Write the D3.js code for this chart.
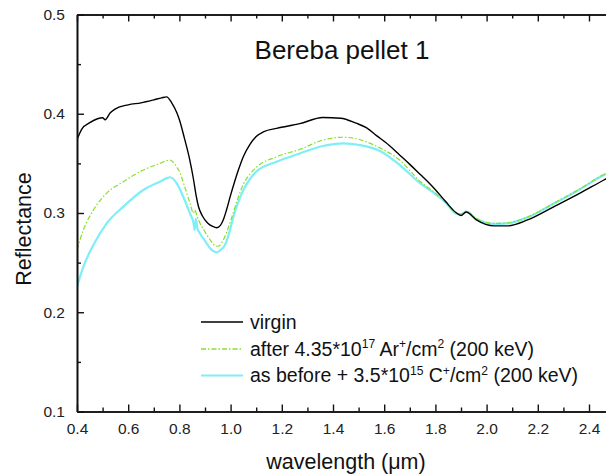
<!DOCTYPE html>
<html>
<head>
<meta charset="utf-8">
<script src="https://cdn.jsdelivr.net/npm/d3@7"></script>
<style>
  html, body { margin: 0; padding: 0; background: #fff; }
  svg { display: block; font-family: "Liberation Sans", Arial, sans-serif; }
</style>
</head>
<body>
<svg id="chart" width="606" height="474"></svg>
<script>
// Reflectance spectra of the Bereba pellet (virgin and after ion irradiation)

const wlVirgin = [0.40, 0.42, 0.45, 0.48, 0.50, 0.51, 0.53, 0.55, 0.60, 0.65, 0.70, 0.73, 0.75, 0.77,
  0.79, 0.80, 0.82, 0.84, 0.855, 0.865, 0.875, 0.89, 0.91, 0.93, 0.946, 0.96, 0.972, 0.985,
  1.00, 1.015, 1.03, 1.05, 1.075, 1.10, 1.13, 1.18, 1.27, 1.36, 1.43, 1.49, 1.53, 1.57, 1.62, 1.66,
  1.70, 1.74, 1.78, 1.80, 1.84, 1.88, 1.90, 1.92, 1.96, 2.03, 2.08, 2.16, 2.26, 2.365, 2.456, 2.50];
const rVirgin = [0.374, 0.385, 0.391, 0.395, 0.396, 0.394, 0.401, 0.405, 0.409, 0.411, 0.414, 0.416, 0.417, 0.411,
  0.401, 0.394, 0.375, 0.354, 0.334, 0.318, 0.306, 0.297, 0.290, 0.2865, 0.2852, 0.2875, 0.2935, 0.304,
  0.318, 0.331, 0.343, 0.357, 0.369, 0.377, 0.382, 0.3853, 0.390, 0.3962, 0.3955, 0.3905, 0.386, 0.378, 0.368, 0.3585,
  0.349, 0.339, 0.329, 0.3235, 0.3115, 0.3005, 0.2975, 0.301, 0.293, 0.287, 0.287, 0.293, 0.306, 0.320, 0.333, 0.339];

const wlArgon = [0.40, 0.425, 0.464, 0.516, 0.581, 0.659, 0.724, 0.763, 0.789, 0.80, 0.82, 0.84, 0.855,
  0.86, 0.87, 0.88, 0.90, 0.92, 0.94, 0.95, 0.97, 0.985, 1.00, 1.015, 1.03, 1.05, 1.075, 1.10, 1.18,
  1.27, 1.36, 1.44, 1.50, 1.58, 1.66, 1.74, 1.80, 1.84, 1.88, 1.90, 1.92, 1.96, 2.03, 2.08, 2.16,
  2.26, 2.365, 2.456, 2.50];
const rArgon = [0.263, 0.283, 0.303, 0.320, 0.3316, 0.3433, 0.350, 0.3534, 0.3466, 0.342, 0.327, 0.311, 0.300,
  0.303, 0.296, 0.290, 0.281, 0.273, 0.267, 0.2665, 0.272, 0.281, 0.292, 0.304, 0.316, 0.329, 0.339, 0.346, 0.3567,
  0.364, 0.3735, 0.3763, 0.3743, 0.366, 0.3534, 0.332, 0.320, 0.311, 0.3005, 0.2990, 0.3020, 0.2945, 0.2895, 0.2900, 0.2960,
  0.3095, 0.3245, 0.3385, 0.3435];

const wlCarbon = [0.40, 0.425, 0.464, 0.516, 0.581, 0.659, 0.724, 0.763, 0.789, 0.80, 0.815, 0.841, 0.855,
  0.86, 0.864, 0.87, 0.88, 0.90, 0.92, 0.946, 0.96, 0.978, 0.99, 1.00, 1.011, 1.03, 1.05, 1.075, 1.10, 1.18,
  1.27, 1.36, 1.44, 1.505, 1.584, 1.662, 1.74, 1.80, 1.84, 1.88, 1.90, 1.92, 1.96, 2.03, 2.08, 2.16,
  2.26, 2.365, 2.456, 2.50];
const rCarbon = [0.2257, 0.246, 0.2678, 0.2896, 0.3064, 0.3232, 0.3316, 0.336, 0.330, 0.325, 0.3164, 0.2997, 0.290,
  0.283, 0.294, 0.285, 0.2795, 0.272, 0.2644, 0.2604, 0.2625, 0.2678, 0.276, 0.285, 0.2963, 0.311, 0.3232, 0.334, 0.3416, 0.3517,
  0.360, 0.3675, 0.3702, 0.3685, 0.3625, 0.348, 0.330, 0.319, 0.3105, 0.2995, 0.2985, 0.3015, 0.294, 0.289, 0.2895, 0.2955,
  0.309, 0.324, 0.338, 0.343];

const xMajorTicks = [0.4, 0.6, 0.8, 1.0, 1.2, 1.4, 1.6, 1.8, 2.0, 2.2, 2.4];
const xMinorTicks = [0.5, 0.7, 0.9, 1.1, 1.3, 1.5, 1.7, 1.9, 2.1, 2.3, 2.5];
const yMajorTicks = [0.1, 0.2, 0.3, 0.4, 0.5];
const yMinorTicks = [0.15, 0.25, 0.35, 0.45];

const legendLabels = ["virgin", "after", "as before"];

const svg = d3.select("#chart");
const plot = { left: 77, right: 614.6, top: 14.5, bottom: 411.5 };

const x = d3.scaleLinear().domain([0.4, 2.5]).range([plot.left, plot.right]);
const y = d3.scaleLinear().domain([0.1, 0.5]).range([plot.bottom, plot.top]);

const series = [
  { wl: wlVirgin, r: rVirgin, color: "#000000", width: 1.4, dash: null },
  { wl: wlArgon, r: rArgon, color: "#86e02c", width: 1.2, dash: "5,2,1.5,2" },
  { wl: wlCarbon, r: rCarbon, color: "#7eeef8", width: 2.2, dash: null }
];

svg.append("defs").append("clipPath").attr("id", "plotClip")
  .append("rect")
  .attr("x", plot.left).attr("y", plot.top)
  .attr("width", plot.right - plot.left).attr("height", plot.bottom - plot.top);

const line = d3.line()
  .x(d => x(d[0]))
  .y(d => y(d[1]))
  .curve(d3.curveMonotoneX);

// draw cyan first so the dashed green and black stay visible on top of it
const drawOrder = [2, 1, 0];
const curves = svg.append("g").attr("clip-path", "url(#plotClip)");
drawOrder.forEach(i => {
  const s = series[i];
  curves.append("path")
    .datum(d3.zip(s.wl, s.r))
    .attr("fill", "none")
    .attr("stroke", s.color)
    .attr("stroke-width", s.width)
    .attr("stroke-linejoin", "round")
    .attr("stroke-dasharray", s.dash)
    .attr("d", line);
});

// axes: ticks point inward
const fmt = d3.format(".1f");
function styleAxis(g) {
  g.select(".domain").attr("stroke", "#111").attr("stroke-width", 1.6);
  g.selectAll(".tick line").attr("stroke", "#111").attr("stroke-width", 1.4);
  g.selectAll(".tick text").attr("fill", "#222").attr("font-size", 15.5)
    .attr("font-family", "'Liberation Sans', Arial, sans-serif");
}

svg.append("g")
  .attr("transform", `translate(0,${plot.bottom})`)
  .call(d3.axisBottom(x).tickValues(xMajorTicks).tickFormat(fmt).tickSizeInner(-7).tickSizeOuter(0).tickPadding(11))
  .call(styleAxis);
svg.append("g")
  .attr("transform", `translate(0,${plot.bottom})`)
  .call(d3.axisBottom(x).tickValues(xMinorTicks).tickFormat("").tickSizeInner(-4).tickSizeOuter(0))
  .call(styleAxis);

svg.append("g")
  .attr("transform", `translate(0,${plot.top})`)
  .call(d3.axisTop(x).tickValues(xMajorTicks).tickFormat("").tickSizeInner(-7).tickSizeOuter(0))
  .call(styleAxis);
svg.append("g")
  .attr("transform", `translate(0,${plot.top})`)
  .call(d3.axisTop(x).tickValues(xMinorTicks).tickFormat("").tickSizeInner(-4).tickSizeOuter(0))
  .call(styleAxis);

svg.append("g")
  .attr("transform", `translate(${plot.left},0)`)
  .call(d3.axisLeft(y).tickValues(yMajorTicks).tickFormat(fmt).tickSizeInner(-7).tickSizeOuter(0).tickPadding(12))
  .call(styleAxis);
svg.append("g")
  .attr("transform", `translate(${plot.left},0)`)
  .call(d3.axisLeft(y).tickValues(yMinorTicks).tickFormat("").tickSizeInner(-4).tickSizeOuter(0))
  .call(styleAxis);

// titles
svg.append("text")
  .attr("x", 342).attr("y", 59)
  .attr("text-anchor", "middle")
  .attr("font-size", 26)
  .attr("fill", "#111")
  .text("Bereba pellet 1");

svg.append("text")
  .attr("x", 346).attr("y", 469)
  .attr("text-anchor", "middle")
  .attr("font-size", 21.5)
  .attr("fill", "#111")
  .text("wavelength (\u03bcm)");

svg.append("text")
  .attr("transform", "translate(31,229) rotate(-90)")
  .attr("text-anchor", "middle")
  .attr("font-size", 21.5)
  .attr("fill", "#111")
  .text("Reflectance");

// legend
const legendY = [322, 349, 375.5];
const legend = svg.append("g");
series.forEach((s, i) => {
  legend.append("line")
    .attr("x1", 201).attr("x2", 243)
    .attr("y1", legendY[i]).attr("y2", legendY[i])
    .attr("stroke", s.color)
    .attr("stroke-width", i === 2 ? 2 : 1.3)
    .attr("stroke-dasharray", s.dash);
});

const fs = 19.5;
function legendText(i) {
  return legend.append("text")
    .attr("x", 250).attr("y", legendY[i] + 6.5)
    .attr("font-size", fs).attr("fill", "#111");
}
function sup(t, str) {
  t.append("tspan").attr("dy", -7.5).attr("font-size", fs * 0.62).text(str);
  return t;
}
function base(t, str) {
  t.append("tspan").attr("dy", 7.5).text(str);
  return t;
}

legendText(0).text(legendLabels[0]);

const t1 = legendText(1);
t1.append("tspan").text(legendLabels[1] + " 4.35*10");
sup(t1, "17");
base(t1, " Ar");
sup(t1, "+");
base(t1, "/cm");
sup(t1, "2");
base(t1, " (200 keV)");

const t2 = legendText(2);
t2.append("tspan").text(legendLabels[2] + " + 3.5*10");
sup(t2, "15");
base(t2, " C");
sup(t2, "+");
base(t2, "/cm");
sup(t2, "2");
base(t2, " (200 keV)");
</script>
</body>
</html>
